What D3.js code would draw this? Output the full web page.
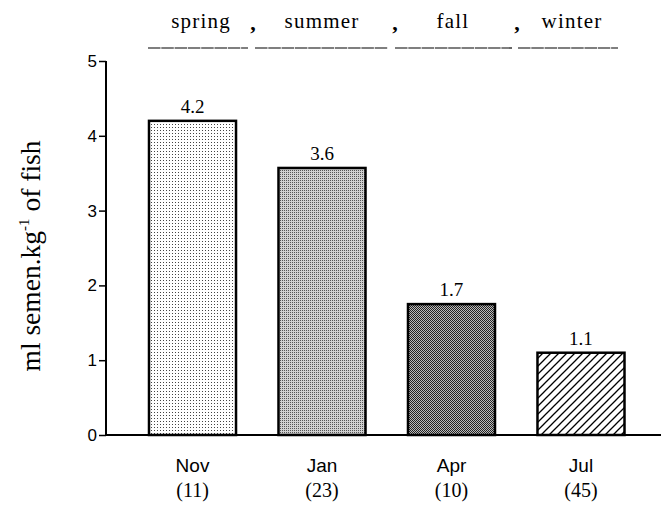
<!DOCTYPE html>
<html>
<head>
<meta charset="utf-8">
<title>Semen volume by month</title>
<script src="https://d3js.org/d3.v7.min.js"></script>
<style>
  body { margin: 0; background: #fff; }
  .sans { font-family: "Liberation Sans", Arial, sans-serif; fill: #000; }
  .serif { font-family: "Liberation Serif", "Times New Roman", serif; fill: #000; }
</style>
</head>
<body>
<script>
// chart data
var months = ["Nov", "Jan", "Apr", "Jul"];
var values = [4.2, 3.57, 1.75, 1.1];
var valueLabels = ["4.2", "3.6", "1.7", "1.1"];
var counts = ["(11)", "(23)", "(10)", "(45)"];
var seasons = ["spring", "summer", "fall", "winter"];
var yTicks = [0, 1, 2, 3, 4, 5];

var width = 662, height = 509;

var svg = d3.select("body").append("svg")
    .attr("width", width)
    .attr("height", height);

// fill patterns for each bar
var defs = svg.append("defs");

var p1 = defs.append("pattern").attr("id", "pat0")
    .attr("patternUnits", "userSpaceOnUse").attr("width", 3).attr("height", 3);
p1.append("rect").attr("width", 3).attr("height", 3).attr("fill", "#fff");
p1.append("rect").attr("x", 1).attr("y", 1).attr("width", 1).attr("height", 1).attr("fill", "#444");

var p2 = defs.append("pattern").attr("id", "pat1")
    .attr("patternUnits", "userSpaceOnUse").attr("width", 2).attr("height", 2);
p2.append("rect").attr("width", 2).attr("height", 2).attr("fill", "#d0d0d0");
p2.append("rect").attr("width", 1).attr("height", 1).attr("fill", "#555");

var p3 = defs.append("pattern").attr("id", "pat2")
    .attr("patternUnits", "userSpaceOnUse").attr("width", 2).attr("height", 2);
p3.append("rect").attr("width", 2).attr("height", 2).attr("fill", "#bbb");
p3.append("rect").attr("width", 1).attr("height", 1).attr("fill", "#222");
p3.append("rect").attr("x", 1).attr("y", 1).attr("width", 1).attr("height", 1).attr("fill", "#222");

var p4 = defs.append("pattern").attr("id", "pat3")
    .attr("patternUnits", "userSpaceOnUse").attr("width", 8).attr("height", 8);
p4.append("rect").attr("width", 8).attr("height", 8).attr("fill", "#fff");
p4.append("path").attr("d", "M-2,2 L2,-2 M0,8 L8,0 M6,10 L10,6")
    .attr("stroke", "#000").attr("stroke-width", 1.3);

// scales
var x = d3.scaleBand()
    .domain(months)
    .range([149, 624.5])
    .paddingInner(0.328)
    .paddingOuter(0);

var y = d3.scaleLinear()
    .domain([0, 5])
    .range([435, 61]);

// bars
svg.selectAll(".bar")
    .data(values)
    .enter().append("rect")
    .attr("class", "bar")
    .attr("x", function(d, i) { return x(months[i]); })
    .attr("y", function(d) { return y(d); })
    .attr("width", x.bandwidth())
    .attr("height", function(d) { return y(0) - y(d); })
    .attr("fill", function(d, i) { return "url(#pat" + i + ")"; })
    .attr("stroke", "#000")
    .attr("stroke-width", 2.5);

// value labels above bars
svg.selectAll(".vlabel")
    .data(values)
    .enter().append("text")
    .attr("class", "serif")
    .attr("x", function(d, i) { return x(months[i]) + x.bandwidth() / 2; })
    .attr("y", function(d) { return y(d) - 8; })
    .attr("text-anchor", "middle")
    .style("font-size", "19px")
    .text(function(d, i) { return valueLabels[i]; });

// y axis
var yAxis = svg.append("g")
    .attr("transform", "translate(106,0)")
    .call(d3.axisLeft(y).tickValues(yTicks).tickFormat(d3.format("d")).tickSize(7).tickPadding(2));
yAxis.attr("font-family", null).attr("font-size", null);
yAxis.selectAll(".tick text").attr("class", "sans").style("font-size", "17px");
yAxis.select(".domain").attr("stroke-width", 2).attr("d", "M0,435V61");
yAxis.selectAll(".tick line").attr("stroke-width", 1.5);

// x axis line
svg.append("line")
    .attr("x1", 106).attr("x2", 661)
    .attr("y1", y(0)).attr("y2", y(0))
    .attr("stroke", "#000").attr("stroke-width", 2);

// month labels
svg.selectAll(".mlabel")
    .data(months)
    .enter().append("text")
    .attr("class", "sans")
    .attr("x", function(d) { return x(d) + x.bandwidth() / 2; })
    .attr("y", 472)
    .attr("text-anchor", "middle")
    .style("font-size", "19px")
    .text(function(d) { return d; });

// sample size labels
svg.selectAll(".nlabel")
    .data(counts)
    .enter().append("text")
    .attr("class", "serif")
    .attr("x", function(d, i) { return x(months[i]) + x.bandwidth() / 2; })
    .attr("y", 497)
    .attr("text-anchor", "middle")
    .style("font-size", "20px")
    .text(function(d) { return d; });

// y title
svg.append("text")
    .attr("class", "serif")
    .attr("transform", "translate(40,256) rotate(-90)")
    .attr("text-anchor", "middle")
    .style("font-size", "27.5px")
    .html('ml semen.kg<tspan dy="-11" font-size="15">-1</tspan><tspan dy="11"> of fish</tspan>');

// season header
var seasonX = [201, 322, 453, 572];
svg.selectAll(".season")
    .data(seasons)
    .enter().append("text")
    .attr("class", "serif")
    .attr("x", function(d, i) { return seasonX[i]; })
    .attr("y", 28)
    .attr("text-anchor", "middle")
    .style("font-size", "21px")
    .style("letter-spacing", "1.2px")
    .text(function(d) { return d; });

var commaX = [253, 395, 517];
svg.selectAll(".comma")
    .data(commaX)
    .enter().append("text")
    .attr("class", "serif")
    .attr("x", function(d) { return d; })
    .attr("y", 30)
    .attr("text-anchor", "middle")
    .style("font-size", "22px")
    .style("font-weight", "bold")
    .text(",");

// underline segments
var lineSegs = [[148, 248], [255, 388], [395, 512], [518, 618]];
svg.selectAll(".uline")
    .data(lineSegs)
    .enter().append("line")
    .attr("x1", function(d) { return d[0]; })
    .attr("x2", function(d) { return d[1]; })
    .attr("y1", 48).attr("y2", 48)
    .attr("stroke", "#000").attr("stroke-width", 1.2)
    .attr("stroke-dasharray", "12.5,0.8");
</script>
</body>
</html>
